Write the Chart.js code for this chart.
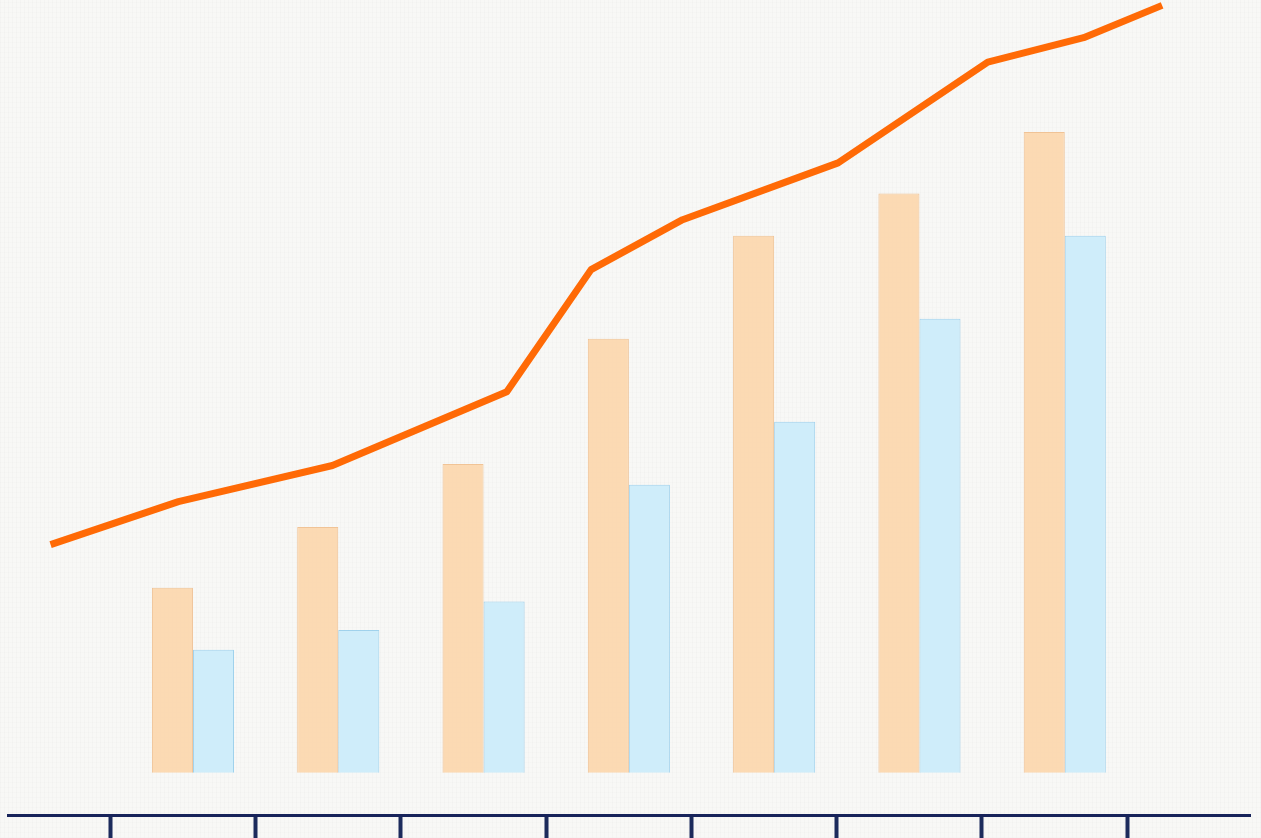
<!DOCTYPE html>
<html>
<head>
<meta charset="utf-8">
<script src="https://cdn.jsdelivr.net/npm/chart.js@4/dist/chart.umd.min.js"></script>
<style>
  html, body {
    margin: 0;
    padding: 0;
    background-color: #f8f8f6;
    background-image:
      repeating-linear-gradient(90deg, rgba(200, 200, 200, 0.08) 0px, rgba(200, 200, 200, 0.08) 1px, transparent 1px, transparent 4px),
      repeating-linear-gradient(0deg, rgba(210, 210, 210, 0.07) 0px, rgba(210, 210, 210, 0.07) 1px, transparent 1px, transparent 5px);
  }
  #wrap {
    position: relative;
    width: 1261px;
    height: 838px;
  }
</style>
</head>
<body>
<div id="wrap"><canvas id="mainChart"></canvas></div>
<script>
// Categories (no labels are shown in the picture)
const categories = ["1", "2", "3", "4", "5", "6", "7"];

// Bar series
const orangeValues = [24.1, 32.0, 40.2, 56.5, 69.9, 75.4, 83.4];
const blueValues = [16.0, 18.6, 22.3, 37.5, 45.7, 59.1, 69.9];

// Trend line (x on the same linear axis as the categories)
const lineX = [0.02, 0.9, 1.96, 3.16, 3.74, 4.37, 5.44, 6.47, 7.13, 7.67];
const lineY = [29.7, 35.3, 40.0, 49.6, 65.5, 72.0, 79.4, 92.5, 95.7, 99.9];

// Tick marks on the x axis (between the groups)
const tickValues = [0.43, 1.43, 2.43, 3.43, 4.43, 5.43, 6.43, 7.43];

const ctx = document.getElementById("mainChart").getContext("2d");

const chart = new Chart(ctx, {
  type: "bar",
  data: {
    datasets: [
      {
        type: "line",
        label: "Trend",
        data: lineX.map((x, i) => ({ x: x, y: lineY[i] })),
        borderColor: "#ff6a06",
        borderWidth: 7,
        pointRadius: 0,
        tension: 0,
        borderJoinStyle: "round",
        clip: false,
        order: 0,
      },
      {
        label: "Series A",
        data: categories.map((c, i) => ({ x: i + 1, y: orangeValues[i] })),
        backgroundColor: "rgba(252, 214, 172, 0.9)",
        borderColor: "rgba(240, 190, 140, 0.9)",
        borderWidth: 1,
        order: 1,
      },
      {
        label: "Series B",
        data: categories.map((c, i) => ({ x: i + 1, y: blueValues[i] })),
        backgroundColor: "rgba(204, 236, 250, 0.95)",
        borderColor: "rgba(150, 205, 235, 0.9)",
        borderWidth: 1,
        order: 1,
      },
    ],
  },
  options: {
    responsive: true,
    maintainAspectRatio: false,
    animation: false,
    categoryPercentage: 0.565,
    barPercentage: 1,
    layout: {
      padding: { left: 8, right: 11, top: 0, bottom: 0 },
    },
    scales: {
      x: {
        type: "linear",
        offset: false, // bar charts turn this on by default
        min: -0.273,
        max: 8.275,
        afterBuildTicks: (scale) => {
          scale.ticks = tickValues.map((v) => ({ value: v }));
        },
        ticks: { display: false },
        grid: {
          offset: false,
          drawOnChartArea: false,
          drawTicks: true,
          tickLength: 23,
          tickWidth: 4,
          color: "#1c2b5c",
        },
        border: {
          display: true,
          color: "#17235a",
          width: 3,
        },
      },
      y: {
        display: false,
        min: -5.5,
        max: 100.6,
      },
    },
    plugins: {
      legend: { display: false },
      tooltip: { enabled: false },
    },
  },
});
</script>
</body>
</html>
